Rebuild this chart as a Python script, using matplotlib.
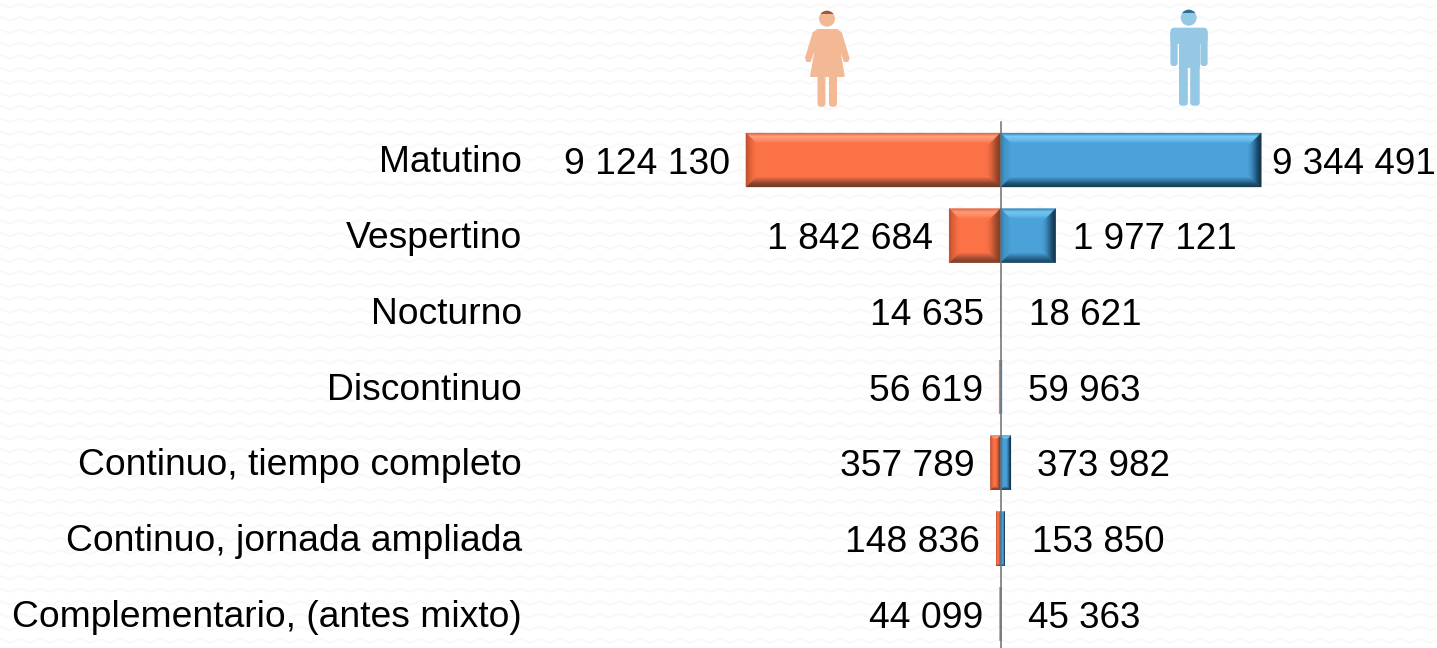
#!/usr/bin/python
import numpy as np
import matplotlib
matplotlib.use('Agg')
import matplotlib.pyplot as plt
from matplotlib.patches import Circle, Polygon, Rectangle, FancyBboxPatch
from matplotlib.colors import to_rgb

plt.rcParams['font.family'] = ['Liberation Sans', 'DejaVu Sans']

categories = ['Matutino', 'Vespertino', 'Nocturno', 'Discontinuo',
              'Continuo, tiempo completo', 'Continuo, jornada ampliada',
              'Complementario, (antes mixto)']
mujeres = [9124130, 1842684, 14635, 56619, 357789, 148836, 44099]
hombres = [9344491, 1977121, 18621, 59963, 373982, 153850, 45363]

# espacio entre barra y etiqueta, en px
gap_h = [11, 17, 28, 26, 26, 27, 26]

W, H = 1437, 648
px_per_val = 2.79e-5   # px por persona
x0 = 1000.5            # eje central en px
y0, dy = 160, 75.67    # primera categoria y paso en px
BAR_H = 54 / dy
BEVEL = 14
FS = 26.8
FS_VAL = 26.5

fig = plt.figure(figsize=(W / 100, H / 100), dpi=100, facecolor='white')

# fondo en zigzag
bg = fig.add_axes([0, 0, 1, 1], zorder=0)
bg.set_xlim(0, W)
bg.set_ylim(H, 0)
bg.axis('off')
zx = np.arange(-10, W + 20, 10)
for r in np.arange(6, H + 13, 12.7):
    bg.plot(zx, r + 1.8 * (-1.0) ** (np.arange(len(zx))), color='#f8f8f8', lw=1.3,
            solid_joinstyle='miter')

ax = fig.add_axes([0, 0, 1, 1], zorder=1)
ax.patch.set_alpha(0)
ax.set_xlim(-x0 / px_per_val, (W - x0) / px_per_val)
ax.set_ylim((H - y0) / dy, -y0 / dy)
ax.axis('off')


def ramp(stops, t):
    pos = np.linspace(0, 1, len(stops))
    rgb = np.array([to_rgb(c) for c in stops])
    return tuple(np.interp(t, pos, rgb[:, j]) for j in range(3))


def bevel_bar(x_a, x_b, yc, cols):
    """bisel 3D sobre una barra: x_a borde izquierdo, x_b derecho (valores)"""
    w_px = abs(x_b - x_a) * px_per_val
    if w_px < 3:
        return
    bv = min(BEVEL, w_px / 2)
    bx = bv / px_per_val
    by = bv / dy
    t, b = yc - BAR_H / 2, yc + BAR_H / 2
    n = 14
    for k in range(n):
        f1, f2 = k / n, (k + 1) / n
        xa1, xa2 = x_a + bx * f1, x_a + bx * f2
        xb1, xb2 = x_b - bx * f1, x_b - bx * f2
        t1, t2 = t + by * f1, t + by * f2
        b1, b2 = b - by * f1, b - by * f2
        sides = [
            ('top', [(xa1, t1), (xb1, t1), (xb2, t2), (xa2, t2)]),
            ('bottom', [(xa1, b1), (xb1, b1), (xb2, b2), (xa2, b2)]),
            ('left', [(xa1, t1), (xa2, t2), (xa2, b2), (xa1, b1)]),
            ('right', [(xb1, t1), (xb2, t2), (xb2, b2), (xb1, b1)]),
        ]
        for name, pts in sides:
            c = ramp(cols[name], (f1 + f2) / 2)
            ax.add_patch(Polygon(pts, closed=True, fc=c, ec=c, lw=0.2, zorder=3))


main_m, main_h = '#FC7247', '#4BA2D9'
cols_m = {'top': ('#D9623A', '#FFA07E', '#FF8E68', main_m, main_m),
          'bottom': ('#6E3A28', '#85432C', '#C05C3A', main_m, main_m),
          'left': ('#B5512F', '#D95E38', '#F0693F', main_m, main_m),
          'right': ('#70351F', '#8A3F25', '#B8532F', '#E0663F', main_m)}
cols_h = {'top': ('#2E7EB0', '#78CBF5', '#6ABDEE', main_h, main_h),
          'bottom': ('#15384E', '#1F5272', '#357CA9', main_h, main_h),
          'right': ('#10283A', '#173C55', '#2A6A94', '#3F8FC2', main_h),
          'left': ('#2F6F98', '#3F8FC2', '#4698CE', main_h, main_h)}

for i, (m, h) in enumerate(zip(mujeres, hombres)):
    ax.barh(i, -m, height=BAR_H, color=main_m, zorder=2, snap=False)
    ax.barh(i, h, height=BAR_H, color=main_h, zorder=2, snap=False)
    bevel_bar(-m, 0, i, cols_m)
    bevel_bar(0, h, i, cols_h)
    lbl_m = f'{m:,}'.replace(',', ' ')
    lbl_h = f'{h:,}'.replace(',', ' ')
    ax.annotate(lbl_m, (-m, i), xytext=(-16 * 0.72, -4 * 0.72), textcoords='offset points',
                ha='right', va='center', fontsize=FS, color='black', zorder=5)
    ax.annotate(lbl_h, (h, i), xytext=(gap_h[i] * 0.72, -4 * 0.72), textcoords='offset points',
                ha='left', va='center', fontsize=FS_VAL, color='black', zorder=5)
    ax.annotate(categories[i], (-x0 / px_per_val, i), xytext=(522 * 0.72, -3 * 0.72),
                textcoords='offset points', ha='right', va='center',
                fontsize=FS, color='black', zorder=5)

# eje central
ax.plot([0, 0], [(122 - y0) / dy, (H - y0) / dy], color='#6f6f6f', lw=1.1, zorder=4)

# iconos en px
ic = fig.add_axes([0, 0, 1, 1], zorder=2)
ic.patch.set_alpha(0)
ic.set_xlim(0, W)
ic.set_ylim(H, 0)
ic.axis('off')


def head(cx, cy, fill, cap):
    c = Circle((cx, cy), 8, fc=fill, ec='none')
    ic.add_patch(c)
    r = Rectangle((cx - 9, cy - 9), 18, 4, fc=cap, ec='none')
    ic.add_patch(r)
    r.set_clip_path(c)


def rbox(x1, y1, x2, y2, col, rad=3):
    ic.add_patch(FancyBboxPatch((x1 + rad, y1 + rad), x2 - x1 - 2 * rad, y2 - y1 - 2 * rad,
                                boxstyle=f'round,pad={rad},rounding_size={rad}',
                                fc=col, ec='none'))


# mujer
c_f = '#F3B995'
head(827, 18.7, c_f, '#9A5C3E')
ic.add_patch(Polygon([(818, 30), (837, 30), (841, 33), (848.5, 58), (847.5, 61), (844.5, 61),
                      (837.5, 40), (843.8, 76), (811, 76), (817.5, 40), (810, 61),
                      (807, 61), (806, 58), (813.5, 33)],
                     closed=True, fc=c_f, ec=c_f, lw=1.4, joinstyle='round'))
rbox(817.5, 74, 825.4, 106.7, c_f)
rbox(829, 74, 837, 106.7, c_f)

# hombre
c_m = '#94C8E4'
head(1188.7, 17.7, c_m, '#2E6E95')
rbox(1170.4, 27.7, 1207.6, 44, c_m, rad=4)
rbox(1170.4, 30, 1177.6, 66, c_m)
rbox(1200.4, 30, 1207.6, 66, c_m)
ic.add_patch(Rectangle((1179, 30), 20.7, 38, fc=c_m, ec='none'))
rbox(1179, 60, 1187.8, 105.7, c_m)
rbox(1190.2, 60, 1199.7, 105.7, c_m)

fig.savefig('out.png', dpi=100, facecolor='white')
